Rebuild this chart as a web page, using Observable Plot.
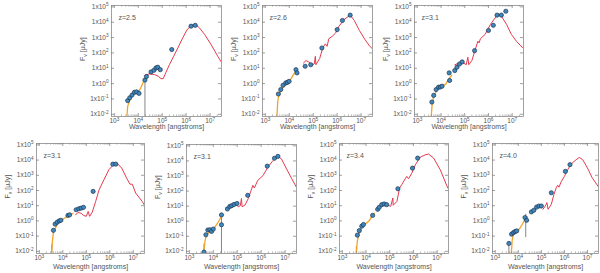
<!DOCTYPE html>
<html><head><meta charset="utf-8">
<script src="https://cdn.jsdelivr.net/npm/d3@7"></script>
<script src="https://cdn.jsdelivr.net/npm/@observablehq/plot@0.6"></script>
<style>
body{margin:0;background:#fff}
#root{position:relative;width:600px;height:273px;overflow:hidden}
.panel{position:absolute}
</style></head><body><div id="root"></div>
<script>
// ---- tick values and labels ----
const xTickValues = [1e3, 1e4, 1e5, 1e6, 1e7];
const xTickLabels = ["10^{3}", "10^{4}", "10^{5}", "10^{6}", "10^{7}"];
const xMinorTicks = [2e3,3e3,4e3,5e3,6e3,7e3,8e3,9e3,2e4,3e4,4e4,5e4,6e4,7e4,8e4,9e4,2e5,3e5,4e5,5e5,6e5,7e5,8e5,9e5,2e6,3e6,4e6,5e6,6e6,7e6,8e6,9e6,2e7];
const yTickValues = [1e-2, 1e-1, 1, 10, 1e2, 1e3, 1e4, 1e5];
const yTickLabels = ["1x10^{-2}", "1x10^{-1}", "1x10^{0}", "1x10^{1}", "1x10^{2}", "1x10^{3}", "1x10^{4}", "1x10^{5}"];
const xTitle = "Wavelength [angstroms]";
const yTitle = "F_{ν} [μJy]";
const redshiftLabels = ["z=2.5", "z=2.6", "z=3.1", "z=3.1", "z=3.1", "z=3.4", "z=4.0"];

// ---- panel 1 (z=2.5) : [wavelength Å, flux μJy] ----
const p1Model = [[1.9e4,3.5],[2.9e4,4.3],[4.7e4,3.9],[6.9e4,3.0],[8.9e4,2.1],[1.1e5,2.1],[1.4e5,5.0],[2.0e5,17],[3.0e5,60],[4.5e5,210],[7.2e5,950],[1.1e6,3300],[1.6e6,5800],[2.4e6,7100],[3.6e6,4300],[5.9e6,1600],[1.1e7,350],[2.1e7,60],[3.1e7,22]];
const p1Stellar = [[3.3e3,0.005],[3.6e3,0.033],[4.3e3,0.078],[5.5e3,0.17],[7.3e3,0.28],[9.5e3,0.25],[1.23e4,0.47],[1.55e4,1.1],[1.9e4,2.1],[2.2e4,3.0]];
const p1Phot = [[3.6e3,0.078],[4.4e3,0.12],[5.5e3,0.18],[6.9e3,0.27],[8.5e3,0.29],[1.07e4,0.23],[1.9e4,1.7],[2.2e4,2.9],[3.4e4,5.8],[4.5e4,7.4],[5.5e4,10.5],[6.5e4,11.7],[8.3e4,8.1],[2.5e5,166],[1.6e6,5500],[2.4e6,6300]];
const p1Errors = [[1.9e4,0.004,1.7]];

// ---- panel 2 (z=2.6) ----
const p2Model = [[3.9e4,22],[5.0e4,32],[6.6e4,25],[8.7e4,17],[1.1e5,19],[1.23e5,60],[1.29e5,17],[1.86e5,43],[2.5e5,210],[3.2e5,390],[3.8e5,270],[4.5e5,850],[6.2e5,1200],[8.7e5,2000],[1.2e6,5500],[1.95e6,15000],[3.5e6,29000],[5.2e6,13000],[8.5e6,2900],[1.4e7,810],[2.2e7,300],[3.2e7,165]];
const p2Stellar = [[3.0e3,0.005],[3.3e3,0.071],[3.7e3,0.19],[5.5e3,0.63],[8.9e3,1.1],[1.23e4,2.3],[1.55e4,4.3],[1.9e4,6.3]];
const p2Phot = [[3.5e3,0.21],[4.4e3,0.41],[5.5e3,0.78],[7.1e3,1.1],[8.3e3,1.2],[9.8e3,1.4],[1.9e4,8.1],[2.1e4,5.0],[4.6e4,13.5],[7.9e4,17],[2.3e5,210],[1.0e6,3300],[1.66e6,13000],[3.5e6,29000]];
const p2Errors = [];

// ---- panel 3 (z=3.1) ----
const p3Model = [[3.8e4,17],[5.8e4,22],[7.8e4,25],[1.15e5,17],[1.35e5,52],[1.48e5,17],[2.0e5,32],[2.6e5,120],[3.3e5,390],[3.6e5,580],[4.0e5,450],[4.6e5,850],[7.2e5,1600],[1.2e6,7100],[1.9e6,19000],[2.6e6,32000],[3.5e6,25000],[5.8e6,7100],[9.3e6,1600],[1.5e7,580],[2.8e7,210]];
const p3Stellar = [[3.8e3,0.005],[4.2e3,0.043],[4.9e3,0.15],[7.2e3,0.47],[1.17e4,0.68],[1.6e4,0.96],[2.2e4,2.1],[2.8e4,3.5]];
const p3Phot = [[4.1e3,0.063],[4.9e3,0.17],[6.2e3,0.41],[7.8e3,0.58],[9.3e3,0.6],[1.1e4,0.68],[2.2e4,5.0],[2.3e4,1.6],[3.8e4,7.1],[4.7e4,11.7],[6.0e4,19],[7.8e4,26],[2.6e5,140],[1.0e6,2900],[1.6e6,6300],[2.3e6,29000],[3.5e6,29000],[5.4e6,52000]];
const p3Errors = [];

// ---- panel 4 (z=3.1) ----
const p4Model = [[3.5e4,2.5],[4.4e4,3.6],[6.0e4,3.2],[7.6e4,2.3],[1.0e5,2.0],[1.2e5,4.2],[1.38e5,2.0],[1.8e5,3.8],[2.5e5,19],[3.5e5,110],[5.6e5,500],[9.1e5,2300],[1.5e6,5400],[2.0e6,6300],[3.2e6,3000],[5.2e6,650],[7.2e6,260],[9.1e6,260],[1.26e7,68],[2.4e7,19],[3.2e7,9]];
const p4Stellar = [[3.3e3,0.005],[3.6e3,0.045],[4.0e3,0.19],[6.5e3,0.83],[1.2e4,1.55],[1.95e4,2.5],[2.7e4,3.1]];
const p4Phot = [[4.0e3,0.24],[4.7e3,0.62],[5.8e3,0.83],[7.1e3,1.0],[8.3e3,1.1],[1.66e4,2.3],[1.95e4,2.5],[3.7e4,5.4],[4.8e4,6.3],[6.0e4,6.9],[7.6e4,7.8],[1.95e5,87],[1.35e6,5400],[1.8e6,5400]];
const p4Errors = [[3.4e3,0.004,0.027]];

// ---- panel 5 (z=3.1) ----
const p5Model = [[8.3e4,15],[1.1e5,9.1],[1.35e5,10.7],[1.5e5,32],[1.6e5,9.1],[2.1e5,11.7],[2.9e5,32],[3.8e5,110],[4.5e5,240],[5.2e5,160],[7.2e5,510],[1.2e6,1070],[1.9e6,3800],[3.1e6,10500],[5.0e6,20000],[7.1e6,13500],[1.15e7,2950],[1.9e7,660],[3.2e7,145]];
const p5Stellar = [[3.8e3,0.005],[4.5e3,0.047],[5.2e3,0.126],[7.8e3,0.21],[1.15e4,0.39],[1.58e4,0.85],[2.0e4,1.6],[2.4e4,2.3]];
const p5Phot = [[4.1e3,0.0089],[4.9e3,0.126],[5.9e3,0.26],[7.2e3,0.27],[8.5e3,0.21],[1.0e4,0.3],[2.2e4,0.58],[2.2e4,2.6],[3.9e4,6.5],[4.9e4,9.5],[5.9e4,10.7],[7.4e4,13],[9.8e4,15],[2.75e5,52],[1.8e6,4500],[3.6e6,15000],[5.0e6,20000]];
const p5Errors = [[2.2e4,0.004,2.6],[4.1e3,0.004,0.03]];

// ---- panel 6 (z=3.4) ----
const p6Model = [[8.7e4,10.7],[1.1e5,9.1],[1.35e5,32],[1.4e5,10.7],[2.0e5,19],[2.6e5,145],[3.2e5,240],[4.5e5,590],[5.2e5,850],[6.2e5,590],[8.5e5,1380],[1.2e6,4900],[1.9e6,15000],[3.1e6,22000],[4.3e6,25000],[7.1e6,13500],[1.35e7,2300],[2.8e7,145]];
const p6Stellar = [[3.8e3,0.005],[4.3e3,0.047],[4.9e3,0.126],[7.2e3,0.52],[1.07e4,0.74],[1.38e4,1.05],[1.74e4,2.0],[2.2e4,3.2]];
const p6Phot = [[4.3e3,0.115],[5.2e3,0.23],[6.6e3,0.45],[7.8e3,0.58],[1.9e4,2.3],[3.1e4,5.8],[3.6e4,7.9],[4.6e4,11.7],[5.8e4,13],[7.4e4,11.7],[2.2e5,130],[9.1e5,2950],[1.5e6,13500]];
const p6Errors = [[3.9e3,0.004,0.02]];

// ---- panel 7 (z=4.0) ----
const p7Model = [[1.17e5,5.8],[1.48e5,9.5],[1.74e5,16],[1.95e5,5.8],[2.7e5,12.3],[3.5e5,55],[4.4e5,150],[5.1e5,220],[5.8e5,165],[7.2e5,370],[1.0e6,850],[1.38e6,2300],[1.95e6,5500],[3.2e6,10500],[4.4e6,15000],[6.2e6,10500],[1.0e7,3000],[1.6e7,680],[3.2e7,150]];
const p7Stellar = [[4.9e3,0.005],[5.4e3,0.05],[6.2e3,0.15],[8.5e3,0.17],[1.17e4,0.33],[1.55e4,0.68],[1.95e4,1.3],[2.45e4,1.8]];
const p7Phot = [[3.9e3,0.033],[5.1e3,0.135],[6.2e3,0.17],[7.2e3,0.2],[8.5e3,0.22],[1.95e4,1.66],[2.3e4,1.1],[3.7e4,3.9],[4.7e4,5.0],[6.2e4,8.1],[7.8e4,9.5],[1.0e5,9.5],[2.7e5,71],[1.1e6,1800],[1.74e6,5000]];
const p7Errors = [[3.9e3,0.004,0.033],[2.1e4,0.08,2.7]];

// ---- layout ----
const xDomain = [760, 3.0e7];
const yDomain = [0.0072, 1.23e5];
const panels = [
  {model:p1Model, stellar:p1Stellar, phot:p1Phot, errs:p1Errors, fx:111, fy:5,   fw:110, fh:111, tdy:12.5},
  {model:p2Model, stellar:p2Stellar, phot:p2Phot, errs:p2Errors, fx:262, fy:5,   fw:110, fh:111, tdy:12.5},
  {model:p3Model, stellar:p3Stellar, phot:p3Phot, errs:p3Errors, fx:414, fy:5,   fw:109, fh:111, tdy:12.5},
  {model:p4Model, stellar:p4Stellar, phot:p4Phot, errs:p4Errors, fx:36,  fy:143, fw:108, fh:110, tdy:15},
  {model:p5Model, stellar:p5Stellar, phot:p5Phot, errs:p5Errors, fx:186, fy:144, fw:110, fh:109, tdy:15},
  {model:p6Model, stellar:p6Stellar, phot:p6Phot, errs:p6Errors, fx:339, fy:143, fw:109, fh:110, tdy:15},
  {model:p7Model, stellar:p7Stellar, phot:p7Phot, errs:p7Errors, fx:492, fy:143, fw:106, fh:110, tdy:15}
];

const FONT = "'Liberation Sans', Arial, sans-serif";
const TXT = "#555";
const xLab = new Map(xTickValues.map((v, i) => [v, xTickLabels[i]]));
const yLab = new Map(yTickValues.map((v, i) => [v, yTickLabels[i]]));

// convert ^{..} and _{..} into tspans
function richify(svg) {
  d3.select(svg).selectAll("text").each(function () {
    const el = this;
    const s = el.textContent;
    if (!/[\^_]\{/.test(s)) return;
    const sel = d3.select(el);
    sel.text(null);
    const re = /([\^_])\{([^}]*)\}/g;
    let last = 0, m, shifted = 0;
    while ((m = re.exec(s))) {
      if (m.index > last) sel.append("tspan").attr("dy", -shifted).text(s.slice(last, m.index)), shifted = 0;
      const sh = m[1] === "^" ? -2.6 : 1.8;
      sel.append("tspan").attr("dy", sh - shifted).attr("font-size", "0.72em").text(m[2]);
      shifted = sh;
      last = re.lastIndex;
    }
    if (last < s.length) sel.append("tspan").attr("dy", -shifted).text(s.slice(last)), shifted = 0;
  });
}

const root = document.getElementById("root");
panels.forEach((p, i) => {
  const mL = 42, mR = 3, mT = 3, mB = 24;
  const chart = Plot.plot({
    width: mL + p.fw + mR, height: mT + p.fh + mB,
    marginLeft: mL, marginRight: mR, marginTop: mT, marginBottom: mB,
    style: {background: "transparent", fontFamily: FONT, fontSize: "6.5px", color: TXT, overflow: "visible"},
    x: {type: "log", domain: xDomain, axis: null},
    y: {type: "log", domain: yDomain, axis: null},
    marks: [
      Plot.ruleX(p.errs, {x: d => d[0], y1: d => d[1], y2: d => d[2], stroke: "#666", strokeWidth: 0.8, clip: true}),
      Plot.line(p.stellar, {x: d => d[0], y: d => d[1], stroke: "#f2a428", strokeWidth: 1.3, clip: true}),
      Plot.line(p.model, {x: d => d[0], y: d => d[1], stroke: "#e63a4f", strokeWidth: 1, clip: true}),
      Plot.dot(p.phot, {x: d => d[0], y: d => d[1], r: 2.1, fill: "#3f88bd", stroke: "#1e334f", strokeWidth: 0.7, clip: true}),
      Plot.frame({stroke: "#8a8a8a", strokeWidth: 0.8}),
      Plot.tickX(xTickValues, {x: d => d, insetTop: p.fh - 3, stroke: "#777", strokeWidth: 0.7}),
      Plot.tickX(xTickValues, {x: d => d, insetBottom: p.fh - 3, stroke: "#777", strokeWidth: 0.7}),
      Plot.tickX(xMinorTicks, {x: d => d, insetTop: p.fh - 1.6, stroke: "#888", strokeWidth: 0.6}),
      Plot.tickX(xMinorTicks, {x: d => d, insetBottom: p.fh - 1.6, stroke: "#888", strokeWidth: 0.6}),
      Plot.tickY(yTickValues, {y: d => d, insetRight: p.fw - 3, stroke: "#777", strokeWidth: 0.7}),
      Plot.tickY(yTickValues, {y: d => d, insetLeft: p.fw - 3, stroke: "#777", strokeWidth: 0.7}),
      Plot.axisX(xTickValues, {tickSize: 0, tickPadding: 2, tickFormat: d => xLab.get(d), label: null, fontSize: 6.5, fill: TXT}),
      Plot.axisY(yTickValues, {tickSize: 0, tickPadding: 3, tickFormat: d => yLab.get(d), label: null, fontSize: 6.5, fill: TXT}),
      Plot.text([redshiftLabels[i]], {frameAnchor: "top-left", dx: 7, dy: 10, text: d => d, textAnchor: "start", fontSize: 7, fill: TXT}),
      Plot.text([xTitle], {frameAnchor: "bottom", dy: p.tdy, text: d => d, fontSize: 7, fill: TXT}),
      Plot.text([yTitle], {frameAnchor: "left", dx: -29, text: d => d, rotate: -90, fontSize: 7, fill: TXT})
    ]
  });
  richify(chart);
  chart.classList.add("panel");
  chart.style.left = (p.fx - mL) + "px";
  chart.style.top = (p.fy - mT) + "px";
  root.appendChild(chart);
});
</script>
</body></html>
